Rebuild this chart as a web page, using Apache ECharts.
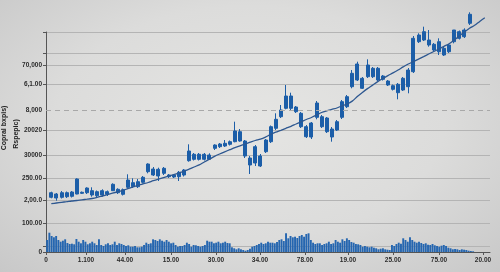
<!DOCTYPE html>
<html><head><meta charset="utf-8">
<script src="https://cdn.jsdelivr.net/npm/echarts@6/dist/echarts.min.js"></script>
<style>
html,body{margin:0;padding:0;}
body{width:500px;height:272px;background:radial-gradient(ellipse at 50% 45%, #e5e5e3 0%, #dcdcdb 55%, #c8c8c8 100%);}
#c{width:500px;height:272px;}
</style>
</head><body><div id="c"></div><script>
// ---- data (axis units) ----
const xTickPos = [0, 40, 79, 125, 170, 214, 259, 302, 347, 393, 437];
const xTickLabels = ['0', '1.100', '44.00', '15.00', '30.00', '34.00', '78.00', '19.00', '25.00', '75.00', '20.00'];
const yLabelPos = [0, 29, 52, 74, 97, 122, 142, 168, 187];
const yLabels = ['0', '100.00', '2,00.0', '250.00', '30000', '20020', '8,000', '6,1.00', '70,000'];
const yGridPos = [0, 6, 29, 52, 74, 97, 122, 168, 187, 199, 220];
const dashedLevel = 142;

// candles: [open, close, low, high]
const candles = [
[54.7,59.3,53.7,60.3],[54,58,51.3,59],[54.7,59.3,53.5,61],[55.3,59.3,54,60.5],[55.7,60,54.5,61],
[58,73,57.7,73.7],[58.7,59.7,58,60.5],[59.3,64,58,64.7],[57,61.3,55.3,64.7],[56.3,60.3,55,61.5],
[57,61.3,55.3,62.7],[57.7,60.3,56,61.5],[61.3,67.7,61,68.7],[59.3,62.7,58,63.7],[57.7,62.3,56.5,63.5],
[64.7,72,63.7,77.7],[65.3,69.3,64,73.7],[65.3,70.3,64,73],[69.7,74.7,68.5,76],[80.3,88,78.7,88.7],
[77,83,76,85],[76,82.7,71,84.3],[78.7,83.7,77,85],[75.3,77,74,78],[75,77,74,78],
[75.3,79.7,71,81],[77,82,75.5,83],[91.3,101,90.3,107.7],[92.7,97.7,91.5,99],[92.7,97.7,91.5,99],
[92.7,97.7,91.5,99],[92.7,97,92.7,98.7],[103.7,107,102,107.7],[105.3,108,104,109],[106,108.7,105,112],
[107.7,110.3,106.5,111.5],[110.3,121,109.7,130.3],[111,120.3,110.3,123],[111,96,94,112],[94,87,78,96],
[89,105.3,86,107],[96,86,85,98],[100.3,112,99,113],[110.3,125.3,109,126.5],[123.7,132.7,122,138.7],
[135.3,142,134,147],[143.7,156,142.7,167],[156,143.7,142,159.3],[145,140.3,139,146],[138.7,125.3,124,140],
[125.3,115.3,114,127],[115,129,113,130],[134.7,149,132.7,151],[135.3,125.3,124,137],[134,120.3,119,135],
[123,115,110.3,125],[122,130.3,121,132],[134.7,150.3,133,152],[145.3,155.3,144,157],[165.3,178.7,163.7,182],
[172,188,171,190.3],[173.7,163.7,163,175],[175.3,187,174,192.7],[183.7,175.3,174,185],[183.7,172,171,185],
[176,172.7,171.5,177],[171,167,166,172],[166.3,162.7,161.5,167.5],[167.7,159.3,152.7,169],[162,173.7,161,175],
[165.3,182,158.7,184],[180.3,213.7,179,216],[210.3,217,209,218.7],[212,220.3,211,225.3],[212,207,205.3,222],
[207.7,202,200.5,209],[200.3,210.3,197,213.7],[203.7,197,196,205],[200.3,207,199,208],[210.3,222,208.7,222],
[213.7,220.3,212.5,221.5],[215.3,222,214,223.7],[228.7,237.7,227,239.7]
];
const maValues = [
48.3,49,49.7,50.3,51,51.5,52.2,52.8,53.5,54.6,56,57.4,58.8,60.2,61.6,63.3,65,66.7,68.1,69.5,
71.3,72.8,74.4,75.9,77.4,79,80.7,82.8,85,87.1,90,92.8,95.6,98,100.2,102.3,104.4,106.2,108,109.8,
111.5,112.8,114.9,117.6,119.8,121.7,123.7,125.7,128,130.2,132.5,134.5,136.8,139.5,141.2,142.6,144,146.2,148,150.9,
155.4,159.5,163.4,166.9,170.4,173.5,176.4,179.1,182,185.1,188,190.4,192.9,195.4,198,200.5,203,205.7,208.2,212,
216,220,223.7,226.7,230.6,234.2
];
const volume = [
12,19.3,16,14.7,16,12,10.3,11.3,12.7,9,8,8.3,7.7,13,10.3,8.7,12,10.3,7.7,8.7,
10.3,8.7,7,12.7,7,6,7.7,8.7,7,7.7,10.3,7,8.7,8,7,6,6.7,5.3,5.3,6,
4.7,4.7,5.3,7,9.3,8,8.7,12.7,12,11,12.7,11.3,10.3,12,10.3,8.7,9.3,7,5.3,6,
6,7,9.3,8,5.3,7,6.7,6,5.3,6,7,11.3,10.3,10.3,8.7,9.3,10.3,8.7,9.3,10.3,
9,8.7,4.7,3.7,2.7,3.7,2.7,2,1.3,2,3.3,5.3,6,7,8,9.3,8,8.7,10.3,9.3,
9.3,8.7,10,12,12.7,11,18.7,13.7,16,14.7,15.3,14,16,17,15.3,18,18.7,12,9.3,8,
8.7,8.7,7,8,8.7,10.3,8,8.7,12,10.3,9.3,12.7,11,13.7,12,10,9.3,8,7.7,7,
5.3,6,5.3,4.7,5.3,4.3,3.7,2.7,3.3,3.7,2.7,2.3,2,7,6,8,9.3,8.3,13.7,12,
10.3,14.7,12,10.3,9.3,10.3,9,8,8.7,7.3,7,8,6.7,6,5.3,6.3,7,6,4.3,3.7,
2.7,3,2.7,2,2.7,2.3,2,1.3,1,0.7
];
const candleSlots = 86;
const volumeSlots = 197;
const candleCats = Array.from({length: candleSlots}, (_, i) => 'c' + i);
const volumeCats = Array.from({length: volumeSlots}, (_, i) => 'v' + i);

const blue = '#1c5ea8';
const labelFont = {fontFamily: 'Liberation Sans', fontSize: 6.5, fontWeight: 'bold', color: '#2b2b2b'};

const chart = echarts.init(document.getElementById('c'), null, {renderer: 'canvas'});
chart.setOption({
  backgroundColor: 'transparent',
  animation: false,
  grid: [
    {left: 46, right: 10, top: 32, bottom: 20},
    {left: 48.75, right: 12.65, top: 32, bottom: 20}
  ],
  xAxis: [
    {type: 'value', gridIndex: 0, min: 0, max: 444,
      axisLine: {show: true, lineStyle: {color: '#555', width: 1}},
      axisTick: {show: true, length: 3, customValues: xTickPos, lineStyle: {color: '#555'}},
      axisLabel: Object.assign({customValues: xTickPos, margin: 5,
        formatter: v => { const i = xTickPos.indexOf(v); return i >= 0 ? xTickLabels[i] : ''; }}, labelFont),
      splitLine: {show: false}},
    {type: 'category', gridIndex: 0, data: volumeCats, show: false, boundaryGap: true},
    {type: 'category', gridIndex: 1, data: candleCats, show: false, boundaryGap: true}
  ],
  yAxis: [
    {type: 'value', gridIndex: 0, min: 0, max: 220,
      axisLine: {show: true, lineStyle: {color: '#555', width: 1}},
      axisTick: {show: true, length: 3, customValues: yGridPos, lineStyle: {color: '#555'}},
      axisLabel: Object.assign({customValues: yLabelPos, margin: 4,
        formatter: v => { const i = yLabelPos.indexOf(v); return i >= 0 ? yLabels[i] : ''; }}, labelFont),
      splitLine: {show: true, lineStyle: {color: '#b4b4b4', width: 1}}},
    {type: 'value', gridIndex: 1, min: 0, max: 220, show: false, splitLine: {show: false}}
  ],
  graphic: [
    {type: 'text', x: 4, y: 128, rotation: Math.PI / 2, style: {text: 'Copral bxpis)', font: 'bold 7px "Liberation Sans"', fill: '#222', align: 'center', verticalAlign: 'middle'}},
    {type: 'text', x: 16, y: 134, rotation: Math.PI / 2, style: {text: 'Rspepic)', font: 'bold 7px "Liberation Sans"', fill: '#222', align: 'center', verticalAlign: 'middle'}}
  ],
  series: [
    {type: 'bar', xAxisIndex: 1, yAxisIndex: 0, data: volume, barWidth: '85%',
      itemStyle: {color: '#2566b0'}, silent: true,
      markLine: {silent: true, symbol: 'none', label: {show: false},
        lineStyle: {color: '#a8a8a8', type: [5, 4], width: 1},
        data: [{yAxis: dashedLevel}]}},
    {type: 'candlestick', xAxisIndex: 2, yAxisIndex: 1, data: candles, barWidth: 3.5, clip: false,
      itemStyle: {color: blue, color0: blue, borderColor: blue, borderColor0: blue, borderWidth: 1}},
    {type: 'line', xAxisIndex: 2, yAxisIndex: 1, data: maValues, smooth: 0.3, symbol: 'none', clip: false,
      lineStyle: {color: '#2d5790', width: 1.3}}
  ]
});
</script></body></html>
